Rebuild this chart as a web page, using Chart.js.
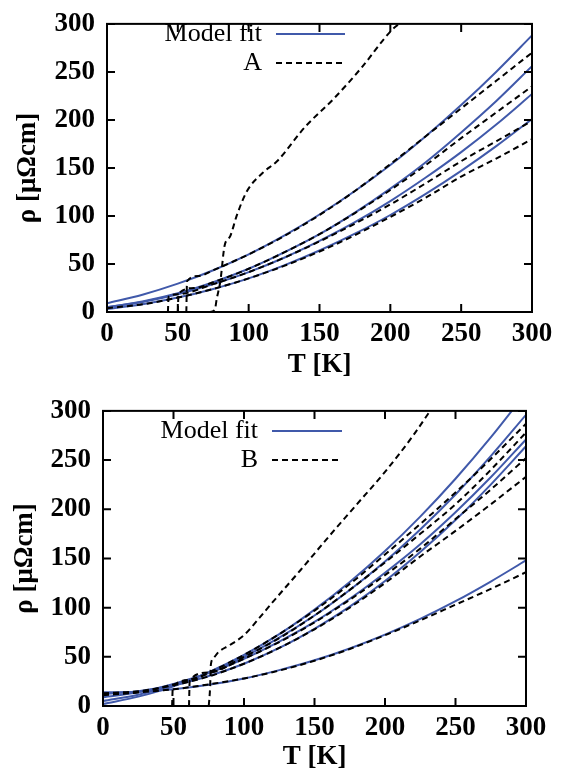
<!DOCTYPE html>
<html>
<head>
<meta charset="utf-8">
<script src="https://cdn.jsdelivr.net/npm/chart.js@4.4.0/dist/chart.umd.min.js"></script>
<style>
  html, body { margin: 0; padding: 0; background: #fff; }
  .panel { position: absolute; left: 0; width: 570px; height: 387px; }
</style>
</head>
<body>
<div class="panel" style="top:0"><canvas id="chartA" width="570" height="387"></canvas></div>
<div class="panel" style="top:387px"><canvas id="chartB" width="570" height="387"></canvas></div>
<script>
// temperature grid for the model fits
const temps = [0, 25, 50, 75, 100, 125, 150, 175, 200, 225, 250, 275, 300];

// panel A - model fits
const fitA1 = [9, 18, 29.5, 43.5, 60, 79.5, 101.5, 126, 153, 183, 215.5, 250.5, 288];
const fitA2 = [5, 11, 19.5, 31, 45, 62, 81, 103.5, 128.5, 156, 187, 220, 256];
const fitA3 = [5, 10.5, 18.5, 29, 41.5, 56.5, 74, 93.5, 115.5, 140, 166.5, 195.5, 227];
const fitA4 = [3, 8, 15, 24, 35, 48.5, 64, 81.5, 101, 123, 147, 173, 201];

// panel A - measured curves [T, rho]
const dataA1 = [[56,0],[56.5,32],[65,37.5],[75,43.5],[100,60],[125,79],[150,101],[175,126],[200,154],[225,183],[250,212],[275,241],[300,270]];
const dataA2 = [[50,0],[50.5,19],[62,25],[75,31],[100,45],[125,62],[150,81],[175,103],[200,127],[225,153],[250,181],[275,208],[300,235]];
const dataA3 = [[43,0],[43.5,16],[50,18.5],[75,29],[100,41.5],[125,56.5],[150,73.5],[175,92],[200,112],[225,134],[250,157],[275,178],[300,199]];
const dataA4 = [[0,4],[25,8],[50,15],[75,24],[100,35],[125,48],[150,63],[175,80],[200,99],[225,119],[250,141],[275,160],[300,180]];
const dataA5 = [[72,0],[76,2],[77.5,14],[80,32],[83,69],[87,79],[91.5,100],[98.5,125],[110,145],[120,157],[140,193],[160,222],[180,255],[200,292],[206,300]];

// panel B - model fits
const fitB1 = [2, 9.5, 20, 34.5, 52, 73, 98, 126, 157.5, 192.5, 231, 273, 318.5];
const fitB2 = [5, 11.5, 21, 34, 50, 69.5, 92, 118, 147, 179.5, 215, 254, 296];
const fitB3 = [9, 14, 22.5, 33.5, 48, 65.5, 85.5, 109, 135.5, 164.5, 197, 232.5, 271];
const fitB4 = [12, 15, 21, 30.5, 43, 59, 78.5, 101, 127, 156.5, 189, 225, 264];
const fitB5 = [14, 14.5, 17, 21.5, 28, 36.5, 46.5, 58.5, 72.5, 88.5, 106.5, 126.5, 148];

// panel B - measured curves [T, rho]
const dataB1 = [[49,0],[49.5,19],[62,26.5],[75,34],[100,52],[125,73],[150,97],[175,124],[200,154],[225,185],[250,217],[275,251],[300,287]];
const dataB2 = [[61,0],[61.5,26],[75,34],[100,50],[125,69],[150,92],[175,118],[200,146],[225,175],[250,205],[275,240],[300,278]];
const dataB3 = [[0,11],[25,14],[50,22],[75,33],[100,48],[125,65],[150,85],[175,108],[200,133],[225,160],[250,190],[275,220],[300,252]];
const dataB4 = [[0,13],[25,15],[50,21],[75,30],[100,43],[125,59],[150,78],[175,100],[200,125],[225,152],[250,178],[275,205],[300,233]];
const dataB5 = [[0,12],[25,14],[50,17],[75,22],[100,28],[125,36],[150,46],[175,58],[200,72],[225,87],[250,103],[275,119],[300,136]];
const dataB6 = [[75,0],[76,20],[76.5,42],[78,48],[82,55],[90,62],[100,72],[110,88],[120,105],[140,138],[160,172],[180,205],[200,238],[220,275],[232,300]];

const xTicks = [0, 50, 100, 150, 200, 250, 300];
const yTicks = [0, 50, 100, 150, 200, 250, 300];

const BLUE = '#4059aa';
const SERIF = "'Liberation Serif', 'Times New Roman', serif";

function fitSet(vals) {
  return {
    data: temps.map((t, i) => ({ x: t, y: vals[i] })),
    borderColor: BLUE, borderWidth: 2, pointRadius: 0,
    showLine: true, cubicInterpolationMode: 'monotone', order: 2
  };
}
function dataSet(pairs) {
  return {
    data: pairs.map(p => ({ x: p[0], y: p[1] })),
    borderColor: '#000', borderWidth: 2, borderDash: [6, 4], pointRadius: 0,
    showLine: true, cubicInterpolationMode: 'monotone', order: 1
  };
}

// frame, inward ticks on all four sides, and the legend inside the plot
const framePlugin = {
  id: 'frame',
  afterDatasetsDraw(chart, args, opts) {
    const { ctx, chartArea: a, scales } = chart;
    const x = scales.x, y = scales.y;
    ctx.save();
    ctx.strokeStyle = '#000';
    ctx.lineWidth = 2;
    ctx.setLineDash([]);
    ctx.strokeRect(a.left, a.top, a.right - a.left, a.bottom - a.top);
    ctx.beginPath();
    x.ticks.forEach(t => {
      const px = x.getPixelForValue(t.value);
      ctx.moveTo(px, a.bottom); ctx.lineTo(px, a.bottom - 8);
      ctx.moveTo(px, a.top); ctx.lineTo(px, a.top + 8);
    });
    y.ticks.forEach(t => {
      const py = y.getPixelForValue(t.value);
      ctx.moveTo(a.left, py); ctx.lineTo(a.left + 8, py);
      ctx.moveTo(a.right, py); ctx.lineTo(a.right - 8, py);
    });
    ctx.stroke();

    ctx.font = '26px ' + SERIF;
    ctx.fillStyle = '#000';
    ctx.textAlign = 'right';
    ctx.textBaseline = 'middle';
    opts.items.forEach((it, i) => {
      const ly = opts.top + i * opts.gap;
      ctx.fillText(it.text, opts.textRight, ly);
      ctx.strokeStyle = it.color;
      ctx.setLineDash(it.dash);
      ctx.beginPath();
      ctx.moveTo(opts.lineFrom, ly);
      ctx.lineTo(opts.lineTo, ly);
      ctx.stroke();
    });
    ctx.restore();
  }
};

function makeChart(id, datasets, area, legend) {
  const tickFont = { family: SERIF, size: 27, weight: 'bold', lineHeight: 0.88 };
  const titleFont = { family: SERIF, size: 27, weight: 'bold', lineHeight: 1.2 };
  return new Chart(document.getElementById(id), {
    type: 'scatter',
    data: { datasets: datasets },
    options: {
      responsive: false,
      animation: false,
      layout: { padding: { left: 0, top: area.top, right: 570 - area.right, bottom: 0 } },
      plugins: { legend: { display: false }, tooltip: { enabled: false }, frame: legend },
      scales: {
        x: {
          type: 'linear', min: 0, max: 300,
          afterBuildTicks: s => { s.ticks = xTicks.map(v => ({ value: v })); },
          afterFit: s => { s.height = 387 - area.bottom; },
          grid: { display: false, drawTicks: false },
          border: { display: false },
          ticks: { color: '#000', font: tickFont, padding: 10, maxRotation: 0 },
          title: { display: true, text: 'T [K]', color: '#000', font: titleFont, padding: { top: 0, bottom: area.xTitlePad } }
        },
        y: {
          type: 'linear', min: 0, max: 300,
          afterBuildTicks: s => { s.ticks = yTicks.map(v => ({ value: v })); },
          afterFit: s => { s.width = area.left; },
          grid: { display: false, drawTicks: false },
          border: { display: false },
          ticks: { color: '#000', font: tickFont, padding: 12 },
          title: { display: true, text: 'ρ [μΩcm]', color: '#000', font: titleFont, padding: { top: area.yTitlePad, bottom: 0 } }
        }
      }
    },
    plugins: [framePlugin]
  });
}

makeChart('chartA',
  [fitSet(fitA1), fitSet(fitA2), fitSet(fitA3), fitSet(fitA4),
   dataSet(dataA1), dataSet(dataA2), dataSet(dataA3), dataSet(dataA4), dataSet(dataA5)],
  { left: 107, right: 532, top: 12, bottom: 312, xTitlePad: 6, yTitlePad: 12 },
  { top: 34, gap: 29, textRight: 262, lineFrom: 276, lineTo: 345,
    items: [{ text: 'Model fit', color: BLUE, dash: [] }, { text: 'A', color: '#000', dash: [6, 4] }] });

makeChart('chartB',
  [fitSet(fitB1), fitSet(fitB2), fitSet(fitB3), fitSet(fitB4), fitSet(fitB5),
   dataSet(dataB1), dataSet(dataB2), dataSet(dataB3), dataSet(dataB4), dataSet(dataB5), dataSet(dataB6)],
  { left: 103, right: 526, top: 20, bottom: 319, xTitlePad: 1, yTitlePad: 9 },
  { top: 44, gap: 29, textRight: 258, lineFrom: 272, lineTo: 342,
    items: [{ text: 'Model fit', color: BLUE, dash: [] }, { text: 'B', color: '#000', dash: [6, 4] }] });
</script>
</body>
</html>
